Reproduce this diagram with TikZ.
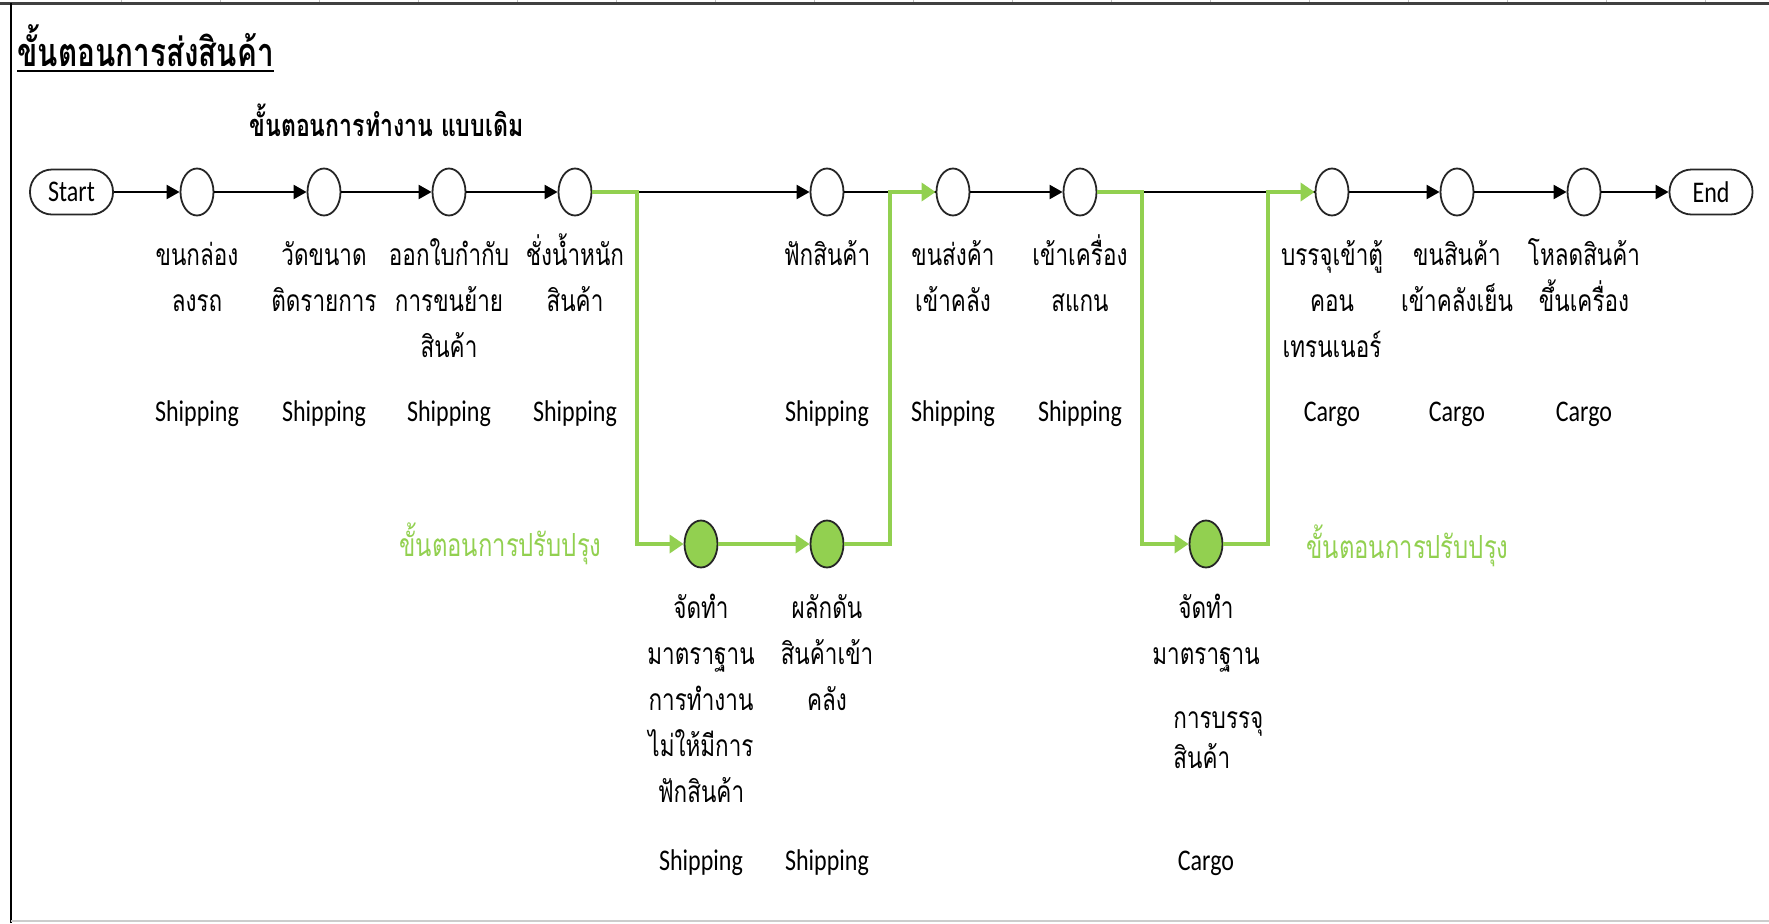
\documentclass[tikz,border=0pt]{standalone}
\usepackage{fontspec}
\setmainfont[FakeStretch=0.8]{Carlito}
\newfontfamily\thaifont[Script=Thai,FakeStretch=0.75]{Loma}
\usetikzlibrary{arrows.meta,shapes.geometric}

\definecolor{fixgreen}{HTML}{92D050}

\begin{document}
\begin{tikzpicture}[x=0.5pt,y=-0.5pt,
    task/.style={ellipse,draw=black!85,line width=0.9pt,fill=white,
      minimum width=16.5pt,minimum height=23.5pt,inner sep=0pt},
    fix/.style={task,fill=fixgreen},
    term/.style={draw=black!85,line width=0.9pt,rounded corners=11pt,
      minimum width=41.5pt,minimum height=22.5pt,inner sep=0pt,
      font=\fontsize{15}{16}\selectfont},
    flow/.style={line width=1.1pt,-{Triangle[length=6.5pt,width=7pt]}},
    gflow/.style={fixgreen,line width=1.8pt,-{Triangle[length=7pt,width=9pt]}},
    lbl/.style={anchor=base,inner sep=0pt,font=\thaifont\fontsize{15}{16}\selectfont},
    who/.style={anchor=base,inner sep=0pt,font=\fontsize{15}{16}\selectfont}]
    \useasboundingbox (0,0) rectangle (1769,923);

    % sheet edges
    \foreach \gx in {121,220,...,1707}
        \draw[black!25,line width=0.5pt] (\gx,0) -- (\gx,2);
    \draw[black!75,line width=1.5pt] (0,3) -- (1769,3);
    \draw[line width=0.8pt] (11,3) -- (11,923);
    \draw[black!20,line width=1pt] (11,921) -- (1769,921);

    % headings
    \node[anchor=base west,inner sep=0pt,font=\thaifont\bfseries\fontsize{19.8}{22}\selectfont]
        (title) at (17,66) {ขั้นตอนการส่งสินค้า};
    \draw[line width=1pt] ([yshift=-2.5pt]title.base west) -- ([yshift=-2.5pt]title.base east);
    \node[anchor=base west,inner sep=0pt,font=\thaifont\bfseries\fontsize{15.4}{18}\selectfont]
        (oldway) at (249,136) {ขั้นตอนการทำงาน แบบเดิม};
    \node[anchor=base west,inner sep=0pt,text=fixgreen,font=\thaifont\fontsize{15.9}{18}\selectfont]
        (newway1) at (399,556) {ขั้นตอนการปรับปรุง};
    \node[anchor=base west,inner sep=0pt,text=fixgreen,font=\thaifont\fontsize{15.9}{18}\selectfont]
        (newway2) at (1306,558) {ขั้นตอนการปรับปรุง};

    % steps
    \node[term] (start) at (71.5,192) {Start};
    \foreach \x [count=\i] in {197,324,449,575,827,953,1080,1332,1457,1584}
        \node[task] (c\i) at (\x,192) {};
    \node[term] (end) at (1711,192) {End};
    \foreach \x [count=\i] in {701,827,1206}
        \node[fix] (g\i) at (\x,544) {};

    % old flow
    \foreach \a/\b in {start/c1,c1/c2,c2/c3,c3/c4,c4/c5,c6/c7,c8/c9,c9/c10,c10/end}
        \draw[flow] (\a) -- (\b);
    \draw[line width=1.1pt] (c5) -- (c6);
    \draw[line width=1.1pt] (c7) -- (c8);

    % improved flow
    \coordinate (a1) at (637,192);
    \coordinate (b1) at (890,192);
    \coordinate (d1) at (1142,192);
    \coordinate (e1) at (1268,192);
    \draw[gflow] (c4) -- (a1) |- (g1);
    \draw[gflow] (g1) -- (g2);
    \draw[gflow] (g2) -| (b1) -- (c6);
    \draw[gflow] (c7) -- (d1) |- (g3);
    \draw[gflow] (g3) -| (e1) -- (c8);

    % step texts
    \foreach \i/\rows in {1/{ขนกล่อง,ลงรถ},2/{วัดขนาด,ติดรายการ},
            3/{ออกใบกำกับ,การขนย้าย,สินค้า},4/{ชั่งน้ำหนัก,สินค้า},5/{ฟักสินค้า},
            6/{ขนส่งค้า,เข้าคลัง},7/{เข้าเครื่อง,สแกน},8/{บรรจุเข้าตู้,คอน,เทรนเนอร์},
            9/{ขนสินค้า,เข้าคลังเย็น},10/{โหลดสินค้า,ขึ้นเครื่อง}}
        \foreach \t [count=\j] in \rows
            \path (c\i) ++(0,{73+46*(\j-1)}) node[lbl] (t\i-\j) {\t};
    \foreach \i/\rows in {1/{จัดทำ,มาตราฐาน,การทำงาน,ไม่ให้มีการ,ฟักสินค้า},
            2/{ผลักดัน,สินค้าเข้า,คลัง},3/{จัดทำ,มาตราฐาน}}
        \foreach \t [count=\j] in \rows
            \path (g\i) ++(0,{74+46*(\j-1)}) node[lbl] (u\i-\j) {\t};
    \node[lbl,anchor=base west] (u3-3) at (1173,728) {การบรรจุ};
    \node[lbl,anchor=base west] (u3-4) at (1173,768) {สินค้า};

    % departments
    \foreach \i/\w in {1/Shipping,2/Shipping,3/Shipping,4/Shipping,5/Shipping,
            6/Shipping,7/Shipping,8/Cargo,9/Cargo,10/Cargo}
        \path (c\i) ++(0,229) node[who] (w\i) {\w};
    \foreach \i/\w in {1/Shipping,2/Shipping,3/Cargo}
        \path (g\i) ++(0,326) node[who] (v\i) {\w};
\end{tikzpicture}
\end{document}
